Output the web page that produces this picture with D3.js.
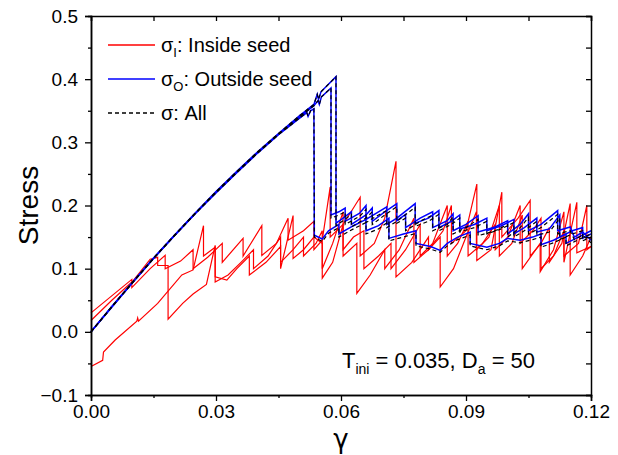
<!DOCTYPE html>
<html>
<head>
<meta charset="utf-8">
<script src="https://cdn.jsdelivr.net/npm/d3@7"></script>
<style>
  body { margin: 0; background: #fff; }
  text { font-family: "Liberation Sans", Arial, sans-serif; }
</style>
</head>
<body>
<div id="chart"></div>
<script>
// tick values
let xTicks = [0, 0.03, 0.06, 0.09, 0.12];
let yTicks = [-0.1, 0, 0.1, 0.2, 0.3, 0.4, 0.5];

// sigma_I : inside seed (three runs)
let inside1 = [[0,0.03],[0.0098,0.083],[0.0098,0.07],[0.0142,0.1],[0.0178,0.121],[0.0178,0.1],[0.0215,0.112],[0.0245,0.13],[0.0245,0.1],[0.028,0.118],[0.0315,0.14],[0.0315,0.11],[0.0365,0.148],[0.0365,0.12],[0.041,0.168],[0.041,0.121],[0.0445,0.14],[0.0473,0.18],[0.0473,0.145],[0.051,0.16],[0.0535,0.175],[0.0535,0.13],[0.0555,0.145],[0.0574,0.229],[0.0574,0.15],[0.0605,0.17],[0.0646,0.213],[0.0646,0.12],[0.068,0.14],[0.0705,0.18],[0.0732,0.27],[0.0732,0.087],[0.077,0.11],[0.081,0.15],[0.081,0.13],[0.0845,0.16],[0.0865,0.2],[0.0865,0.14],[0.09,0.16],[0.0926,0.234],[0.0926,0.113],[0.096,0.13],[0.0986,0.221],[0.0986,0.15],[0.1025,0.18],[0.1054,0.208],[0.1054,0.12],[0.108,0.14],[0.11,0.165],[0.11,0.11],[0.113,0.14],[0.115,0.203],[0.115,0.09],[0.118,0.12],[0.12,0.15]];
let inside2 = [[0,0.018],[0.005,0.05],[0.01,0.08],[0.0142,0.115],[0.016,0.118],[0.016,0.105],[0.0185,0.105],[0.0185,0.02],[0.022,0.045],[0.0245,0.06],[0.0277,0.075],[0.0298,0.137],[0.0298,0.087],[0.0326,0.082],[0.035,0.1],[0.038,0.12],[0.038,0.09],[0.042,0.11],[0.0455,0.135],[0.0455,0.1],[0.0485,0.184],[0.0485,0.116],[0.051,0.13],[0.0535,0.15],[0.0555,0.14],[0.0555,0.085],[0.058,0.11],[0.0605,0.17],[0.0605,0.12],[0.0638,0.14],[0.0638,0.061],[0.067,0.09],[0.0705,0.13],[0.0705,0.1],[0.074,0.13],[0.0775,0.18],[0.0775,0.11],[0.081,0.13],[0.0838,0.15],[0.0838,0.071],[0.087,0.1],[0.09,0.15],[0.0925,0.19],[0.0925,0.13],[0.0955,0.15],[0.098,0.2],[0.098,0.12],[0.101,0.14],[0.1035,0.185],[0.1035,0.1],[0.1078,0.14],[0.1078,0.095],[0.111,0.13],[0.1135,0.19],[0.1135,0.11],[0.1166,0.205],[0.1166,0.125],[0.12,0.135]];
let inside3 = [[0,-0.055],[0.0028,-0.045],[0.003,-0.032],[0.0058,-0.013],[0.011,0.017],[0.0112,0.022],[0.0114,0.017],[0.016,0.045],[0.0218,0.09],[0.0245,0.098],[0.027,0.168],[0.027,0.12],[0.0298,0.134],[0.0298,0.079],[0.0329,0.09],[0.036,0.11],[0.039,0.13],[0.039,0.1],[0.0425,0.12],[0.0455,0.15],[0.0455,0.11],[0.0485,0.13],[0.051,0.15],[0.051,0.12],[0.054,0.14],[0.0555,0.16],[0.0555,0.1],[0.058,0.14],[0.0605,0.19],[0.0605,0.13],[0.063,0.15],[0.0655,0.16],[0.0655,0.1],[0.069,0.12],[0.072,0.14],[0.072,0.1],[0.0755,0.13],[0.079,0.17],[0.079,0.12],[0.082,0.14],[0.0855,0.2],[0.0855,0.12],[0.088,0.14],[0.0905,0.175],[0.0905,0.12],[0.094,0.14],[0.097,0.17],[0.097,0.13],[0.1,0.15],[0.103,0.2],[0.103,0.14],[0.106,0.16],[0.108,0.18],[0.108,0.1],[0.111,0.12],[0.1135,0.16],[0.1135,0.12],[0.117,0.14],[0.119,0.2],[0.119,0.13],[0.12,0.135]];

// sigma_O : outside seed
let outside1 = [[0,0],[0.005,0.04],[0.01,0.079],[0.015,0.117],[0.02,0.153],[0.025,0.188],[0.03,0.222],[0.035,0.254],[0.04,0.285],[0.045,0.314],[0.05,0.342],[0.0535,0.36],[0.0543,0.376],[0.0546,0.368],[0.0552,0.38],[0.0588,0.404],[0.0588,0.172],[0.0605,0.18],[0.0625,0.19],[0.0625,0.17],[0.066,0.185],[0.0675,0.196],[0.0675,0.175],[0.0705,0.19],[0.0734,0.203],[0.0734,0.176],[0.0755,0.186],[0.0755,0.165],[0.079,0.18],[0.082,0.19],[0.082,0.165],[0.0855,0.176],[0.0869,0.187],[0.0869,0.16],[0.09,0.17],[0.0929,0.184],[0.0929,0.158],[0.097,0.166],[0.1,0.176],[0.1,0.155],[0.103,0.17],[0.105,0.187],[0.105,0.16],[0.108,0.17],[0.112,0.192],[0.112,0.16],[0.115,0.166],[0.116,0.15],[0.118,0.158],[0.12,0.145]];
let outside2 = [[0,0],[0.005,0.04],[0.01,0.078],[0.015,0.116],[0.02,0.152],[0.025,0.187],[0.03,0.221],[0.035,0.253],[0.04,0.284],[0.045,0.313],[0.05,0.34],[0.0535,0.358],[0.0545,0.366],[0.0548,0.36],[0.0553,0.372],[0.0576,0.386],[0.0576,0.185],[0.0595,0.19],[0.061,0.196],[0.061,0.175],[0.0645,0.188],[0.066,0.2],[0.066,0.178],[0.069,0.19],[0.071,0.198],[0.071,0.17],[0.0734,0.18],[0.0778,0.203],[0.0778,0.172],[0.081,0.18],[0.0835,0.192],[0.0835,0.165],[0.0865,0.175],[0.0885,0.185],[0.0885,0.163],[0.092,0.17],[0.095,0.18],[0.095,0.16],[0.0985,0.168],[0.1015,0.178],[0.1015,0.155],[0.104,0.165],[0.107,0.18],[0.107,0.158],[0.11,0.163],[0.1125,0.185],[0.1125,0.15],[0.1155,0.16],[0.118,0.165],[0.118,0.148],[0.12,0.155]];
let outside3 = [[0,0],[0.005,0.039],[0.01,0.078],[0.015,0.116],[0.02,0.152],[0.025,0.187],[0.03,0.22],[0.035,0.252],[0.04,0.283],[0.045,0.312],[0.05,0.338],[0.0518,0.347],[0.0521,0.341],[0.0527,0.35],[0.0535,0.353],[0.0536,0.153],[0.0555,0.147],[0.057,0.16],[0.0595,0.17],[0.0595,0.155],[0.063,0.168],[0.066,0.178],[0.066,0.16],[0.069,0.168],[0.0715,0.18],[0.0715,0.148],[0.075,0.155],[0.078,0.16],[0.078,0.14],[0.0815,0.135],[0.0838,0.129],[0.0855,0.14],[0.088,0.15],[0.091,0.158],[0.091,0.14],[0.095,0.134],[0.098,0.14],[0.1,0.148],[0.103,0.145],[0.106,0.15],[0.108,0.155],[0.108,0.138],[0.111,0.145],[0.114,0.155],[0.114,0.14],[0.117,0.15],[0.12,0.16]];

// sigma : all
let all1 = [[0,0],[0.005,0.04],[0.01,0.079],[0.015,0.117],[0.02,0.153],[0.025,0.188],[0.03,0.222],[0.035,0.254],[0.04,0.285],[0.045,0.314],[0.05,0.342],[0.0535,0.36],[0.0543,0.376],[0.0546,0.368],[0.0552,0.38],[0.0588,0.404],[0.0588,0.168],[0.0605,0.176],[0.0625,0.186],[0.0625,0.166],[0.066,0.18],[0.0675,0.19],[0.0675,0.17],[0.0705,0.185],[0.0734,0.198],[0.0734,0.172],[0.0755,0.18],[0.0755,0.16],[0.079,0.175],[0.082,0.185],[0.082,0.16],[0.0855,0.17],[0.0869,0.182],[0.0869,0.155],[0.09,0.165],[0.0929,0.178],[0.0929,0.152],[0.097,0.16],[0.1,0.17],[0.1,0.15],[0.103,0.165],[0.105,0.181],[0.105,0.155],[0.108,0.165],[0.112,0.186],[0.112,0.155],[0.115,0.16],[0.116,0.146],[0.118,0.153],[0.12,0.141]];
let all2 = [[0,0],[0.005,0.04],[0.01,0.078],[0.015,0.116],[0.02,0.152],[0.025,0.187],[0.03,0.221],[0.035,0.253],[0.04,0.284],[0.045,0.313],[0.05,0.34],[0.0535,0.358],[0.0545,0.366],[0.0548,0.36],[0.0553,0.372],[0.0576,0.386],[0.0576,0.18],[0.0595,0.185],[0.061,0.19],[0.061,0.17],[0.0645,0.183],[0.066,0.194],[0.066,0.173],[0.069,0.185],[0.071,0.192],[0.071,0.165],[0.0734,0.175],[0.0778,0.197],[0.0778,0.167],[0.081,0.175],[0.0835,0.186],[0.0835,0.16],[0.0865,0.17],[0.0885,0.18],[0.0885,0.158],[0.092,0.165],[0.095,0.175],[0.095,0.155],[0.0985,0.163],[0.1015,0.173],[0.1015,0.15],[0.104,0.16],[0.107,0.175],[0.107,0.153],[0.11,0.158],[0.1125,0.18],[0.1125,0.146],[0.1155,0.155],[0.118,0.16],[0.118,0.144],[0.12,0.15]];
let all3 = [[0,0],[0.005,0.039],[0.01,0.078],[0.015,0.116],[0.02,0.152],[0.025,0.187],[0.03,0.22],[0.035,0.252],[0.04,0.283],[0.045,0.312],[0.05,0.338],[0.0518,0.347],[0.0521,0.341],[0.0527,0.35],[0.0535,0.353],[0.0536,0.15],[0.0555,0.143],[0.057,0.156],[0.0595,0.165],[0.0595,0.15],[0.063,0.163],[0.066,0.173],[0.066,0.155],[0.069,0.163],[0.0715,0.175],[0.0715,0.144],[0.075,0.15],[0.078,0.156],[0.078,0.136],[0.0815,0.131],[0.0838,0.126],[0.0855,0.136],[0.088,0.146],[0.091,0.153],[0.091,0.136],[0.095,0.13],[0.098,0.136],[0.1,0.144],[0.103,0.141],[0.106,0.146],[0.108,0.15],[0.108,0.134],[0.111,0.141],[0.114,0.15],[0.114,0.136],[0.117,0.146],[0.12,0.155]];

let W = 618, H = 455;
var margin = { top: 16, right: 27, bottom: 60, left: 91 };

var svg = d3.select("#chart")
    .append("svg")
    .attr("width", W)
    .attr("height", H);

svg.append("rect").attr("width", W).attr("height", H).style("fill", "#fff");

var x = d3.scaleLinear().domain([0, 0.12]).range([margin.left, W - margin.right]);
var y = d3.scaleLinear().domain([-0.1, 0.5]).range([H - margin.bottom, margin.top]);

var line = d3.line()
    .x(function(d) { return x(d[0]); })
    .y(function(d) { return y(d[1]); });

// curves: red first, then blue, dashed black on top
[inside1, inside2, inside3].forEach(function(s) {
    svg.append("path").datum(s).attr("d", line)
        .style("fill", "none").style("stroke", "#ff0000").style("stroke-width", 1.2);
});
[outside1, outside2, outside3].forEach(function(s) {
    svg.append("path").datum(s).attr("d", line)
        .style("fill", "none").style("stroke", "#0000ff").style("stroke-width", 1.5);
});
[all1, all2, all3].forEach(function(s) {
    svg.append("path").datum(s).attr("d", line)
        .style("fill", "none").style("stroke", "#000").style("stroke-width", 1.2)
        .style("stroke-dasharray", "4,3");
});

// minor tick positions
let xMinor = d3.range(0.015, 0.12, 0.03);
let yMinor = d3.range(-0.05, 0.5, 0.1);

function styleAxis(g) {
    g.selectAll("path").style("stroke", "#000").style("stroke-width", 1.5);
    g.selectAll("line").style("stroke", "#000").style("stroke-width", 1.3);
    g.selectAll("text").style("font-size", "19px").style("fill", "#000")
        .style("font-family", "'Liberation Sans', Arial, sans-serif");
}

// bottom
var gx = svg.append("g").attr("transform", "translate(0," + y(-0.1) + ")")
    .call(d3.axisBottom(x).tickValues(xTicks).tickFormat(d3.format(".2f")).tickSizeOuter(0).tickSize(6).tickPadding(4));
styleAxis(gx);
svg.append("g").attr("transform", "translate(0," + y(-0.1) + ")")
    .call(d3.axisBottom(x).tickValues(xMinor).tickFormat("").tickSizeOuter(0).tickSize(3))
    .call(styleAxis);

// left
var gy = svg.append("g").attr("transform", "translate(" + x(0) + ",0)")
    .call(d3.axisLeft(y).tickValues(yTicks).tickFormat(d3.format(".1f")).tickSizeOuter(0).tickSize(6).tickPadding(7));
styleAxis(gy);
svg.append("g").attr("transform", "translate(" + x(0) + ",0)")
    .call(d3.axisLeft(y).tickValues(yMinor).tickFormat("").tickSizeOuter(0).tickSize(3))
    .call(styleAxis);

// top and right, ticks pointing in
svg.append("g").attr("transform", "translate(0," + y(0.5) + ")")
    .call(d3.axisBottom(x).tickValues(xTicks.concat(xMinor)).tickFormat("").tickSizeOuter(0).tickSize(5))
    .call(styleAxis);
svg.append("g").attr("transform", "translate(" + x(0.12) + ",0)")
    .call(d3.axisLeft(y).tickValues(yTicks.concat(yMinor)).tickFormat("").tickSizeOuter(0).tickSize(5))
    .call(styleAxis);

// axis titles
svg.append("text")
    .attr("transform", "translate(38," + y(0.2) + ") rotate(-90)")
    .attr("text-anchor", "middle")
    .style("font-size", "28px")
    .text("Stress");

svg.append("text")
    .attr("x", x(0.06))
    .attr("y", 448)
    .attr("text-anchor", "middle")
    .style("font-family", "'DejaVu Sans', sans-serif")
    .style("font-size", "26px")
    .text("γ");

// legend
let legendRows = [
    { color: "#ff0000", dash: null, sub: "I", label: ": Inside seed" },
    { color: "#0000ff", dash: null, sub: "O", label: ": Outside seed" },
    { color: "#000", dash: "4,3", sub: "", label: ": All" }
];
legendRows.forEach(function(r, i) {
    let ly = 45 + i * 34;
    svg.append("line")
        .attr("x1", 108).attr("x2", 155).attr("y1", ly).attr("y2", ly)
        .style("stroke", r.color).style("stroke-width", 1.3)
        .style("stroke-dasharray", r.dash);
    var t = svg.append("text").attr("x", 161).attr("y", ly + 7).style("font-size", "20px");
    t.append("tspan").text("σ");
    if (r.sub) {
        t.append("tspan").attr("dy", 5).style("font-size", "13px").text(r.sub);
        t.append("tspan").attr("dy", -5).text(r.label);
    } else {
        t.append("tspan").text(r.label);
    }
});

// annotation
var ann = svg.append("text").attr("x", 342).attr("y", 368).style("font-size", "22px");
ann.append("tspan").text("T");
ann.append("tspan").attr("dy", 6).style("font-size", "14px").text("ini");
ann.append("tspan").attr("dy", -6).text(" = 0.035, D");
ann.append("tspan").attr("dy", 6).style("font-size", "14px").text("a");
ann.append("tspan").attr("dy", -6).text(" = 50");
</script>
</body>
</html>
